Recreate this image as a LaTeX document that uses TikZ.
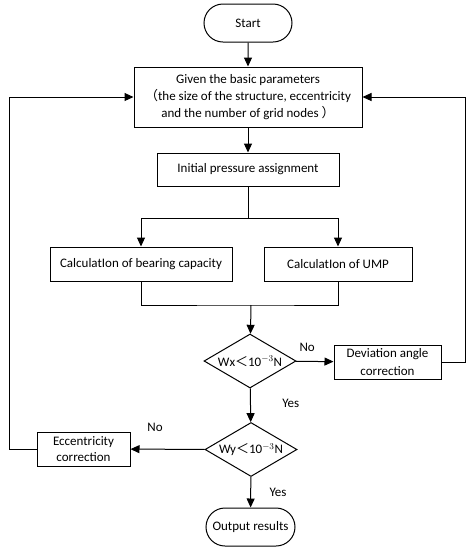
\documentclass[tikz,border=0pt]{standalone}
\usepackage{fontspec}
\setmainfont{Carlito}
\newfontfamily\cjk{Noto Sans CJK SC}
\usepackage{tikz}
\usetikzlibrary{arrows.meta, shapes.geometric, shapes.misc}
\tikzset{
	box/.style={draw, line width=1pt, align=center, inner sep=2pt, font=\fontsize{13}{17}\selectfont},
	term/.style={box, rounded rectangle},
	cond/.style={draw, line width=1pt, diamond, aspect=1.7, inner sep=0pt,
		minimum width=92pt, minimum height=54pt, font=\fontsize{13}{15}\selectfont},
	arr/.style={-{Triangle[length=9pt, width=8pt]}, line width=1pt},
	lbl/.style={font=\fontsize{13}{15}\selectfont},
}

\begin{document}
\begin{tikzpicture}[x=1pt, y=-1pt]
	\useasboundingbox (0,0) rectangle (476,550);
	\node[term, minimum width=92pt, minimum height=38pt] (start) at (248,23) {Start};
	\node[box, minimum width=228pt, minimum height=60pt] (given) at (248,97)
		{Given the basic parameters\\{\cjk （}the size of the structure, eccentricity\\and the number of grid nodes {\cjk ）}};
	\node[box, minimum width=182pt, minimum height=33pt] (init) at (248,169.5) {Initial pressure assignment};
	\node[box, minimum width=182pt, minimum height=34pt] (bear) at (141,264) {CalculatIon of bearing capacity};
	\node[box, minimum width=148pt, minimum height=34pt] (ump) at (338,264) {CalculatIon of UMP};
	\node[cond] (wx) at (250,361) {Wx{\cjk ＜}10$^{-3}$N};
	\node[box, minimum width=107pt, minimum height=34pt, font=\fontsize{13}{18}\selectfont] (dev) at (387.5,362) {Deviation angle\\correction};
	\node[cond] (wy) at (251,449.5) {Wy{\cjk ＜}10$^{-3}$N};
	\node[box, minimum width=93pt, minimum height=34pt, font=\fontsize{13}{16}\selectfont] (ecc) at (83.5,449) {Eccentricity\\correction};
	\node[term, minimum width=93pt, minimum height=38pt] (out) at (250.5,527) {Output results};

	\coordinate (split) at (248,218);
	\coordinate (merge) at (251,305);

	\draw[arr] (start) -- (given);
	\draw[arr] (given) -- (init);
	\draw[line width=1pt] (init) -- (split);
	\draw[arr] (split) -| (bear);
	\draw[arr] (split) -| (ump);
	\draw[line width=1pt] (bear) |- (merge) -| (ump);
	\draw[arr] (merge) -- (wx);
	\draw[arr] (wx) -- node[lbl, above, pos=0.3, yshift=6pt] {No} (dev);
	\draw[arr] (dev.east) -- ++(24,0) |- (given.east);
	\draw[arr] (wx) -- node[lbl, right, xshift=28pt, pos=0.45] {Yes} (wy);
	\draw[arr] (wy) -- node[lbl, above, pos=0.67, yshift=14pt] {No} (ecc);
	\draw[arr] (ecc.west) -- ++(-27,0) |- (given.west);
	\draw[arr] (wy) -- node[lbl, right, xshift=15pt, pos=0.5] {Yes} (out);
\end{tikzpicture}
\end{document}
